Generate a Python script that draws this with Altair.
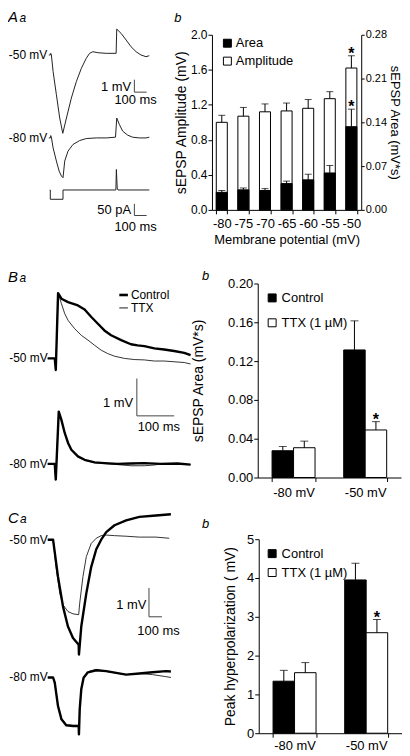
import altair as alt
import pandas as pd

FONT = "Liberation Sans"

# ---------------- Panel A b : amplitude / area vs membrane potential ----------------
potentials = ["-80", "-75", "-70", "-65", "-60", "-55", "-50"]
amp_mean = [1.00, 1.07, 1.12, 1.13, 1.16, 1.27, 1.62]
amp_sem = [0.08, 0.10, 0.09, 0.09, 0.10, 0.08, 0.14]
area_mean = [0.028, 0.032, 0.031, 0.042, 0.048, 0.059, 0.133]
area_sem = [0.003, 0.003, 0.003, 0.004, 0.009, 0.012, 0.028]
sig_A = ["", "", "", "", "", "", "*"]

# ---------------- Panels B b and C b ----------------
holding = ["-80 mV", "-50 mV"]
conditions = ["Control", "TTX (1 µM)"]
B_ctrl, B_ctrl_sem = [0.0276, 0.1315], [0.0044, 0.0300]
B_ttx, B_ttx_sem = [0.0307, 0.0490], [0.0068, 0.0086]
C_ctrl, C_ctrl_sem = [1.34, 3.95], [0.28, 0.43]
C_ttx, C_ttx_sem = [1.56, 2.59], [0.26, 0.34]
sig_ttx = ["", "*"]

# ---------------- Traces: time (ms) and voltage (mV, relative to holding baseline) ----------------
A50_t = [-12, 0, 4, 9, 23, 50, 77, 102, 132, 172, 213, 254, 294, 321, 348, 389, 457, 538, 543, 579, 620, 660, 701, 741, 782, 809]
A50_v = [0, 0, 0.13, 0, -1.34, -3.2, -5.07, -6.3, -5.07, -3.47, -2.14, -1.07, -0.27, 0.13, 0.26, 0.18, 0.13, 0.13, 2.08, 1.73, 1.2, 0.66, 0.26, 0, -0.14, -0.06]
A80_t = [-12, 0, 4, 10, 23, 50, 72, 91, 104, 118, 145, 185, 240, 294, 376, 457, 533, 543, 565, 592, 633, 673, 728, 782, 809]
A80_v = [0, 0, 0.19, 0, -0.8, -1.86, -2.66, -3.06, -3.2, -1.86, -1.06, -0.53, -0.21, -0.05, 0, 0, 0.06, 1.6, 1.07, 0.54, 0.22, 0.06, 0, 0, 0.06]
AI_t = [-4, 0, 0, 104, 104, 536, 540, 547, 553, 809]
AI_pA = [0, 0, -40, -40, 0, 0, 88, 8, 0, 0]

B50c_t = [-19, 0, 2.7, 8.9, 17.8, 35.6, 62, 80, 98, 115.6, 133, 151, 178, 204, 222, 240, 267, 293, 320, 347, 364]
B50c_v = [0, 0, -0.31, 1.75, 1.60, 1.51, 1.42, 1.31, 1.11, 0.93, 0.75, 0.62, 0.49, 0.38, 0.35, 0.33, 0.27, 0.24, 0.20, 0.15, 0.09]
B50t_t = [-19, 0, 2.7, 8.9, 17.8, 26.7, 35.6, 53, 71, 89, 107, 124.5, 142, 160, 187, 213, 240, 267, 293, 320, 347, 364]
B50t_v = [0, 0, -0.31, 1.75, 1.47, 1.20, 1.02, 0.80, 0.62, 0.49, 0.35, 0.22, 0.13, 0.06, 0, -0.03, -0.04, -0.07, -0.07, -0.09, -0.11, -0.15]
B80c_t = [-19, 0, 2.7, 10.7, 17.8, 26.7, 35.6, 44.5, 62, 80, 107, 133, 169, 204, 240, 284, 329, 364]
B80c_v = [0, 0, -0.42, 1.40, 1.18, 0.83, 0.56, 0.38, 0.20, 0.11, 0.04, 0.02, 0, 0.01, 0.02, 0, 0.01, -0.02]
B80t_t = [-19, 0, 2.7, 10.7, 17.8, 26.7, 35.6, 44.5, 62, 80, 107, 133, 169, 204, 240, 267, 284, 329, 364]
B80t_v = [0, 0, -0.42, 1.40, 1.17, 0.82, 0.55, 0.37, 0.19, 0.10, 0.03, 0.01, -0.02, -0.05, -0.05, -0.03, 0, 0, -0.02]

C50c_t = [-41, 0, 38, 77, 115, 154, 198, 200, 218, 257, 295, 334, 372, 411, 475, 565, 667, 795, 911]
C50c_v = [0, 0, -1.28, -2.32, -3.01, -3.41, -3.64, -3.98, -3.01, -1.86, -0.94, -0.33, 0, 0.26, 0.50, 0.67, 0.79, 0.84, 0.88]
C50t_t = [-41, 0, 26, 52, 77, 115, 154, 198, 206, 231, 257, 295, 334, 372, 411, 475, 565, 667, 795, 898]
C50t_v = [0, 0, -1.05, -1.86, -2.26, -2.49, -2.57, -2.60, -2.20, -1.28, -0.59, -0.13, 0.05, 0.14, 0.16, 0.14, 0.12, 0.09, 0.09, 0.05]
C80c_t = [-41, 0, 13, 38, 65, 103, 154, 198, 200, 206, 218, 236, 269, 334, 411, 488, 565, 667, 769, 872, 911]
C80c_v = [0, 0, -0.18, -0.99, -1.45, -1.66, -1.68, -1.68, -1.97, -1.10, -0.41, -0.01, 0.18, 0.25, 0.22, 0.16, 0.10, 0.14, 0.18, 0.22, 0.21]
C80t_t = [-41, 0, 13, 38, 65, 103, 154, 198, 200, 206, 218, 236, 269, 334, 411, 488, 565, 667, 769, 872, 911]
C80t_v = [0, 0, -0.18, -0.97, -1.42, -1.63, -1.66, -1.66, -1.95, -1.08, -0.40, 0.0, 0.2, 0.28, 0.21, 0.15, 0.10, 0.14, 0.10, 0.03, 0.0]

# ---------------- layout of the trace panels ----------------
# w/h: panel size (px); ppms / ppmv: pixels per ms / per mV; t0 / v0: pixel position of t=0 and of the top baseline
LAY_A = dict(w=205, h=226, ppms=0.123, ppmv=12.5, t0=42.5, v0=20.3)
LAY_B = dict(w=251, h=218, ppms=0.375, ppmv=37.5, t0=47.0, v0=75.3)
LAY_C = dict(w=252, h=195, ppms=0.130, ppmv=29.0, t0=45.3, v0=0.5)
OFF_A = {"-50": 0.0, "-80": -6.672, "I": -10.856}
PA_GAIN_A = 0.01872  # display mV per pA for the injected-current trace
OFF_B = {"-50": 0.0, "-80": -2.827}
OFF_C = {"-50": 0.0, "-80": -4.776}
ROW_SPACING = 10


def trace_scales(L):
    xs = alt.Scale(domain=[-L["t0"] / L["ppms"], (L["w"] - L["t0"]) / L["ppms"]], nice=False, zero=False)
    ys = alt.Scale(domain=[(L["v0"] - L["h"]) / L["ppmv"], L["v0"] / L["ppmv"]], nice=False, zero=False)
    return xs, ys


def trace_frame(name, t, v, off=0.0, gain=1.0):
    return pd.DataFrame({"trace": name, "i": list(range(len(t))), "t": t,
                         "v": [off + gain * x for x in v]})


def lines(df, xs, ys, width, color="black"):
    return alt.Chart(df).mark_line(color=color, strokeWidth=width, strokeJoin="round").encode(
        x=alt.X("t:Q", scale=xs, axis=None),
        y=alt.Y("v:Q", scale=ys, axis=None),
        detail="trace:N",
        order="i:Q",
    )


def rules(df, xs, ys, width=1, color="#444"):
    return alt.Chart(df).mark_rule(color=color, strokeWidth=width).encode(
        x=alt.X("t:Q", scale=xs, axis=None), x2="t2:Q",
        y=alt.Y("v:Q", scale=ys, axis=None), y2="v2:Q")


def texts(df, xs, ys, align, size=13):
    return alt.Chart(df).mark_text(align=align, baseline="middle", font=FONT, fontSize=size,
                                   color="black").encode(
        x=alt.X("t:Q", scale=xs, axis=None), y=alt.Y("v:Q", scale=ys, axis=None), text="label:N")


def letter(txt, x, y, size):
    return alt.Chart(pd.DataFrame({"label": [txt]})).mark_text(
        align="left", baseline="alphabetic", font=FONT, fontSize=size, fontStyle="italic", color="black"
    ).encode(x=alt.value(x), y=alt.value(y), text="label:N")


def lab(rows):
    return pd.DataFrame(rows, columns=["t", "v", "label"])


def bar_rules(rows):
    return pd.DataFrame(rows, columns=["t", "t2", "v", "v2"])


# ================= Row A, left: traces =================
xsA, ysA = trace_scales(LAY_A)
trA = pd.concat([
    trace_frame("-50", A50_t, A50_v, OFF_A["-50"]),
    trace_frame("-80", A80_t, A80_v, OFF_A["-80"]),
    trace_frame("I", AI_t, AI_pA, OFF_A["I"], PA_GAIN_A),
])
i_bar = -12.91
leftA = alt.layer(
    lines(trA, xsA, ysA, 1.0, "#222"),
    rules(bar_rules([[687, 687, -2.99, -1.99], [687, 787, -2.99, -2.99],
                     [687, 687, i_bar, i_bar + 50 * PA_GAIN_A], [687, 787, i_bar, i_bar]]), xsA, ysA),
    texts(lab([[-25, OFF_A["-50"], "-50 mV"], [-25, OFF_A["-80"], "-80 mV"]]), xsA, ysA, "right", 12),
    texts(lab([[660, -2.54, "1 mV"], [660, -12.46, "50 pA"]]), xsA, ysA, "right", 13),
    texts(lab([[697, -3.62, "100 ms"], [697, -13.82, "100 ms"]]), xsA, ysA, "center", 13),
    letter("A", 0, -13, 15), letter("a", 11.5, -13, 12), letter("b", 167, -13, 13),
).properties(width=LAY_A["w"], height=LAY_A["h"])

# ================= Row A, right: amplitude + area bars =================
colA = alt.Scale(domain=["Area", "Amplitude"], range=["black", "white"])
legA = alt.Legend(title=None, orient="none", legendX=9, legendY=2, symbolType="square", symbolSize=64,
                  symbolStrokeColor="black", symbolStrokeWidth=1, labelFontSize=13, rowPadding=4,
                  padding=0, labelOffset=2)
xA = alt.X("Vm:N", sort=potentials, scale=alt.Scale(paddingInner=0.49, paddingOuter=0.2),
           axis=alt.Axis(title="Membrane potential (mV)", labelAngle=0, tickBand="extent", tickSize=4,
                         labelPadding=4, titlePadding=3, labelFontSize=13, titleFontSize=13))


def a_frame(series, mean, sem, sig):
    return pd.DataFrame({"Vm": potentials, "series": series, "val": mean,
                         "hi": [m + s for m, s in zip(mean, sem)], "sig": sig})


def a_group(df, ydom, axis):
    ys = alt.Scale(domain=ydom, nice=False, zero=True)
    base = alt.Chart(df).encode(x=xA)
    return alt.layer(
        base.mark_bar(stroke="black", strokeWidth=1).encode(
            y=alt.Y("val:Q", scale=ys, axis=axis), color=alt.Color("series:N", scale=colA, legend=legA)),
        base.mark_rule(color="black").encode(y=alt.Y("val:Q", scale=ys, axis=axis), y2="hi:Q"),
        base.mark_tick(color="black", thickness=1, size=7).encode(y=alt.Y("hi:Q", scale=ys, axis=axis)),
        base.mark_text(font=FONT, fontSize=16, fontWeight="bold", baseline="alphabetic", dy=3).encode(
            y=alt.Y("hi:Q", scale=ys, axis=axis), text="sig:N"),
    )


axis_amp = alt.Axis(orient="left", title="sEPSP Amplitude (mV)", values=[0, 0.4, 0.8, 1.2, 1.6, 2.0],
                    format=".1f", tickSize=4, labelPadding=1, titlePadding=2, labelFontSize=12,
                    titleFontSize=14)
axis_area = alt.Axis(orient="right", title="sEPSP Area (mV*s)", values=[0, 0.07, 0.14, 0.21, 0.28],
                     format=".2f", tickSize=3, labelPadding=1, titlePadding=1, labelFontSize=11,
                     titleFontSize=13)
rightA = alt.layer(
    a_group(a_frame("Amplitude", amp_mean, amp_sem, sig_A), [0, 2.0], axis_amp),
    a_group(a_frame("Area", area_mean, area_sem, sig_A), [0, 0.28], axis_area),
).resolve_scale(y="independent").properties(width=150, height=176)


# ================= grouped bar charts (B b, C b) =================
def grouped(ctrl, ctrl_sem, ttx, ttx_sem, ydom, yvals, yfmt, ytitle, tpad, lx, ly, lrow, lpad, h):
    df = pd.DataFrame({
        "Vh": holding + holding,
        "cond": [conditions[0]] * 2 + [conditions[1]] * 2,
        "mean": ctrl + ttx,
        "hi": [m + s for m, s in zip(ctrl, ctrl_sem)] + [m + s for m, s in zip(ttx, ttx_sem)],
        "sig": ["", ""] + sig_ttx,
    })
    x = alt.X("Vh:N", sort=holding, title=None, scale=alt.Scale(paddingInner=0.4, paddingOuter=0.2),
              axis=alt.Axis(labelAngle=0, tickBand="extent", tickSize=4, labelPadding=lpad, labelFontSize=13))
    xo = alt.XOffset("cond:N", sort=conditions, scale=alt.Scale(paddingInner=0, paddingOuter=0))
    ax = alt.Axis(title=ytitle, values=yvals, format=yfmt, tickSize=4, labelPadding=1, titlePadding=tpad,
                  labelFontSize=13, titleFontSize=14)
    ys = alt.Scale(domain=ydom, nice=False, zero=True)
    leg = alt.Legend(title=None, orient="none", legendX=lx, legendY=ly, symbolType="square", symbolSize=64,
                     symbolStrokeColor="black", symbolStrokeWidth=1, labelFontSize=13, rowPadding=lrow,
                     padding=0, labelOffset=3)
    col = alt.Color("cond:N", sort=conditions, scale=alt.Scale(domain=conditions, range=["black", "white"]),
                    legend=leg)
    base = alt.Chart(df).encode(x=x, xOffset=xo)
    return alt.layer(
        base.mark_bar(stroke="black", strokeWidth=1).encode(y=alt.Y("mean:Q", scale=ys, axis=ax), color=col),
        base.mark_rule(color="black").encode(y=alt.Y("mean:Q", scale=ys, axis=ax), y2="hi:Q"),
        base.mark_tick(color="black", thickness=1, size=8).encode(y=alt.Y("hi:Q", scale=ys, axis=ax)),
        base.mark_text(font=FONT, fontSize=16, fontWeight="bold", baseline="alphabetic", dy=3).encode(
            y=alt.Y("hi:Q", scale=ys, axis=ax), text="sig:N"),
    ).properties(width=144, height=h)


# ================= Row B =================
xsB, ysB = trace_scales(LAY_B)
ctrlB = pd.concat([trace_frame("c50", B50c_t, B50c_v, OFF_B["-50"]), trace_frame("c80", B80c_t, B80c_v, OFF_B["-80"])])
ttxB = pd.concat([trace_frame("t50", B50t_t, B50t_v, OFF_B["-50"]), trace_frame("t80", B80t_t, B80t_v, OFF_B["-80"])])
leftB = alt.layer(
    lines(ctrlB, xsB, ysB, 2.4),
    lines(ttxB, xsB, ysB, 0.8),
    rules(bar_rules([[220, 220, -1.54, -0.54], [220, 320, -1.54, -1.54]]), xsB, ysB),
    rules(bar_rules([[173, 196, 1.70, 1.70]]), xsB, ysB, 2.6, "black"),
    rules(bar_rules([[173, 196, 1.353, 1.353]]), xsB, ysB, 0.9, "black"),
    texts(lab([[-19, OFF_B["-50"], "-50 mV"], [-19, OFF_B["-80"], "-80 mV"]]), xsB, ysB, "right", 12),
    texts(lab([[210, -1.19, "1 mV"]]), xsB, ysB, "right", 13),
    texts(lab([[279, -1.845, "100 ms"]]), xsB, ysB, "center", 13),
    texts(lab([[204, 1.70, "Control"], [204, 1.353, "TTX"]]), xsB, ysB, "left", 12),
    letter("B", 0, -1.5, 15), letter("a", 11.5, -1.5, 12), letter("b", 195, -4, 13),
).properties(width=LAY_B["w"], height=LAY_B["h"])
rightB = grouped(B_ctrl, B_ctrl_sem, B_ttx, B_ttx_sem, [0, 0.20], [0, 0.04, 0.08, 0.12, 0.16, 0.20], ".2f",
                 "sEPSP Area (mV*s)", 22, 8, 8, 11, 5, 195)

# ================= Row C =================
xsC, ysC = trace_scales(LAY_C)
ctrlC = pd.concat([trace_frame("c50", C50c_t, C50c_v, OFF_C["-50"]), trace_frame("c80", C80c_t, C80c_v, OFF_C["-80"])])
ttxC = pd.concat([trace_frame("t50", C50t_t, C50t_v, OFF_C["-50"]), trace_frame("t80", C80t_t, C80t_v, OFF_C["-80"])])
leftC = alt.layer(
    lines(ctrlC, xsC, ysC, 2.4),
    lines(ttxC, xsC, ysC, 0.8),
    rules(bar_rules([[741.5, 741.5, -2.672, -1.672], [741.5, 841.5, -2.672, -2.672]]), xsC, ysC),
    texts(lab([[-41, OFF_C["-50"], "-50 mV"], [-41, OFF_C["-80"], "-80 mV"]]), xsC, ysC, "right", 12),
    texts(lab([[721, -2.26, "1 mV"]]), xsC, ysC, "right", 13),
    texts(lab([[815, -3.155, "100 ms"]]), xsC, ysC, "center", 13),
    letter("C", 0, -16.3, 15), letter("a", 12, -16.3, 12), letter("b", 195, -11, 13),
).properties(width=LAY_C["w"], height=LAY_C["h"])
rightC = grouped(C_ctrl, C_ctrl_sem, C_ttx, C_ttx_sem, [0, 5], [0, 1, 2, 3, 4, 5], "d",
                 "Peak hyperpolarization ( mV)", 9, 7, 8, 5, 2, 195)


def row(left, right):
    return alt.hconcat(left, right, spacing=0, bounds="flush").resolve_scale(
        color="independent").resolve_legend(color="independent")


chart = alt.vconcat(row(leftA, rightA), row(leftB, rightB), row(leftC, rightC), spacing=ROW_SPACING).resolve_scale(
    color="independent").resolve_legend(color="independent").properties(padding=0).configure_view(
    stroke=None).configure_axis(
    labelFont=FONT, titleFont=FONT, labelColor="black", titleColor="black", domainColor="black",
    tickColor="black", titleFontWeight="normal", grid=False).configure_legend(
    labelFont=FONT, labelColor="black")

chart.save("out.html", embed_options={"renderer": "svg", "actions": False})
